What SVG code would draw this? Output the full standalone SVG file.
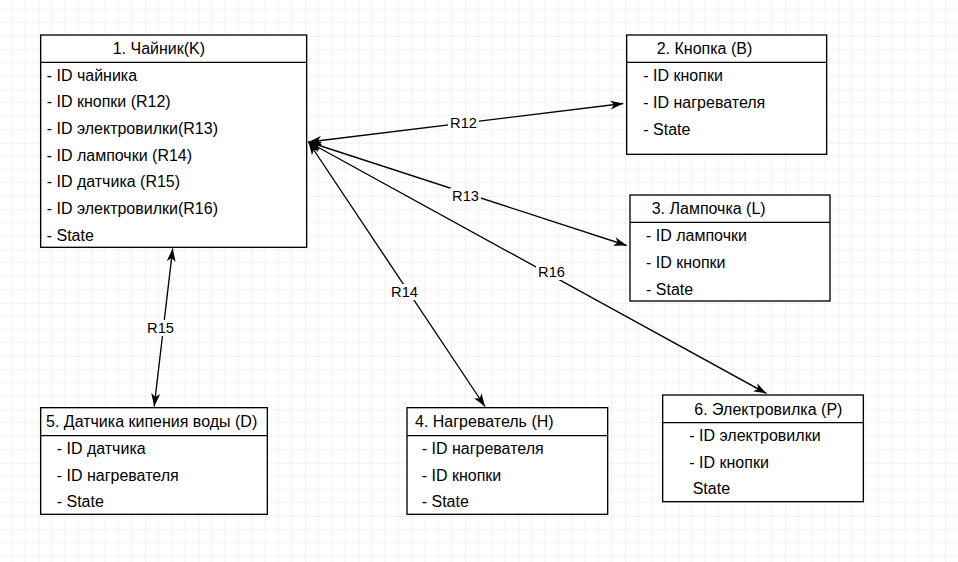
<svg xmlns="http://www.w3.org/2000/svg" width="958" height="562" viewBox="0 0 958 562">
<defs>
<pattern id="grid" patternUnits="userSpaceOnUse" x="38.333" y="36" width="53.333" height="53.333">
<rect x="0" y="0" width="53.333" height="53.333" fill="#ffffff"/>
<path d="M13.333,0V53.333M26.667,0V53.333M40,0V53.333M0,13.333H53.333M0,26.667H53.333M0,40H53.333" stroke="#f3f3f3" stroke-width="1" fill="none"/>
<path d="M0,0V53.333M0,0H53.333" stroke="#e2e2e2" stroke-width="1" fill="none"/>
</pattern>
<marker id="arr" markerUnits="userSpaceOnUse" markerWidth="14" markerHeight="10" viewBox="0 0 14 10" refX="13" refY="5" orient="auto-start-reverse">
<path d="M0,0.5 L13,5 L0,9.5 L3.5,5 Z" fill="#000"/>
</marker>
</defs>
<style>
.box{fill:#fff;stroke:#000;stroke-width:1.333}
.sep{stroke:#000;stroke-width:1.333;fill:none}
.t{font-family:"Liberation Sans",Arial,Helvetica,sans-serif;font-size:16px;fill:#000}
.edge{stroke:#000;stroke-width:1.333;fill:none;marker-start:url(#arr);marker-end:url(#arr)}
.lblbg{fill:#fff}
.lbl{font-family:"Liberation Sans",Arial,Helvetica,sans-serif;font-size:14.67px;fill:#000;text-anchor:middle}
</style>
<rect x="0" y="0" width="958" height="562" fill="url(#grid)"/>

<g id="connectors">
<path class="edge" d="M308.5,142 L623.3,103.5"/>
<path class="edge" d="M308.5,142 L626.7,245.5"/>
<path class="edge" d="M308.5,142 L485,406.5"/>
<path class="edge" d="M308.5,142 L766.5,393.5"/>
<path class="edge" d="M172.7,248.5 L154.2,406.5"/>
<rect class="lblbg" x="448" y="115" width="31" height="16"/>
<text class="lbl" x="463.5" y="128.2">R12</text>
<rect class="lblbg" x="450" y="188" width="31" height="16"/>
<text class="lbl" x="465.5" y="201.2">R13</text>
<rect class="lblbg" x="389" y="284" width="31" height="16"/>
<text class="lbl" x="404.5" y="297.2">R14</text>
<rect class="lblbg" x="145" y="320" width="31" height="16"/>
<text class="lbl" x="160.5" y="333.2">R15</text>
<rect class="lblbg" x="536" y="264" width="31" height="16"/>
<text class="lbl" x="551.5" y="277.2">R16</text>
</g>

<g id="node1">
<rect class="box" x="40.67" y="35" width="266" height="212.33"/>
<path class="sep" d="M40.67,62.33 H306.67"/>
<text class="t" x="112.7" y="54.4">1. Чайник(K)</text>
<text class="t" x="46.7" y="80.7">- ID чайника</text>
<text class="t" x="46.7" y="107.3">- ID кнопки (R12)</text>
<text class="t" x="46.7" y="134">- ID электровилки(R13)</text>
<text class="t" x="46.7" y="160.7">- ID лампочки (R14)</text>
<text class="t" x="46.7" y="187.3">- ID датчика (R15)</text>
<text class="t" x="46.7" y="214">- ID электровилки(R16)</text>
<text class="t" x="46.7" y="240.7">- State</text>
</g>

<g id="node2">
<rect class="box" x="626.67" y="35" width="200" height="119.33"/>
<path class="sep" d="M626.67,62.33 H826.67"/>
<text class="t" x="656.7" y="54.4">2. Кнопка (B)</text>
<text class="t" x="643.3" y="81.3">- ID кнопки</text>
<text class="t" x="643.3" y="108">- ID нагревателя</text>
<text class="t" x="643.3" y="134.7">- State</text>
</g>

<g id="node3">
<rect class="box" x="630" y="195" width="200" height="106"/>
<path class="sep" d="M630,222.33 H830"/>
<text class="t" x="651.7" y="214.4">3. Лампочка (L)</text>
<text class="t" x="646" y="241.3">- ID лампочки</text>
<text class="t" x="646" y="268">- ID кнопки</text>
<text class="t" x="646" y="294.7">- State</text>
</g>

<g id="node5">
<rect class="box" x="40.67" y="407.67" width="226.67" height="106.67"/>
<path class="sep" d="M40.67,435.67 H267.33"/>
<text class="t" x="46" y="427.2">5. Датчика кипения воды (D)</text>
<text class="t" x="56.7" y="454">- ID датчика</text>
<text class="t" x="56.7" y="480.7">- ID нагревателя</text>
<text class="t" x="56.7" y="507.3">- State</text>
</g>

<g id="node4">
<rect class="box" x="407" y="407.67" width="200.67" height="106.67"/>
<path class="sep" d="M407,435.67 H607.67"/>
<text class="t" x="415" y="427.2">4. Нагреватель (H)</text>
<text class="t" x="421.7" y="454">- ID нагревателя</text>
<text class="t" x="421.7" y="480.7">- ID кнопки</text>
<text class="t" x="421.7" y="507.3">- State</text>
</g>

<g id="node6">
<rect class="box" x="662.67" y="395" width="200.67" height="106.67"/>
<path class="sep" d="M662.67,422.67 H863.33"/>
<text class="t" x="694.3" y="414.5">6. Электровилка (P)</text>
<text class="t" x="689.3" y="441">- ID электровилки</text>
<text class="t" x="689.3" y="467.7">- ID кнопки</text>
<text class="t" x="692.7" y="494.3">State</text>
</g>
</svg>
